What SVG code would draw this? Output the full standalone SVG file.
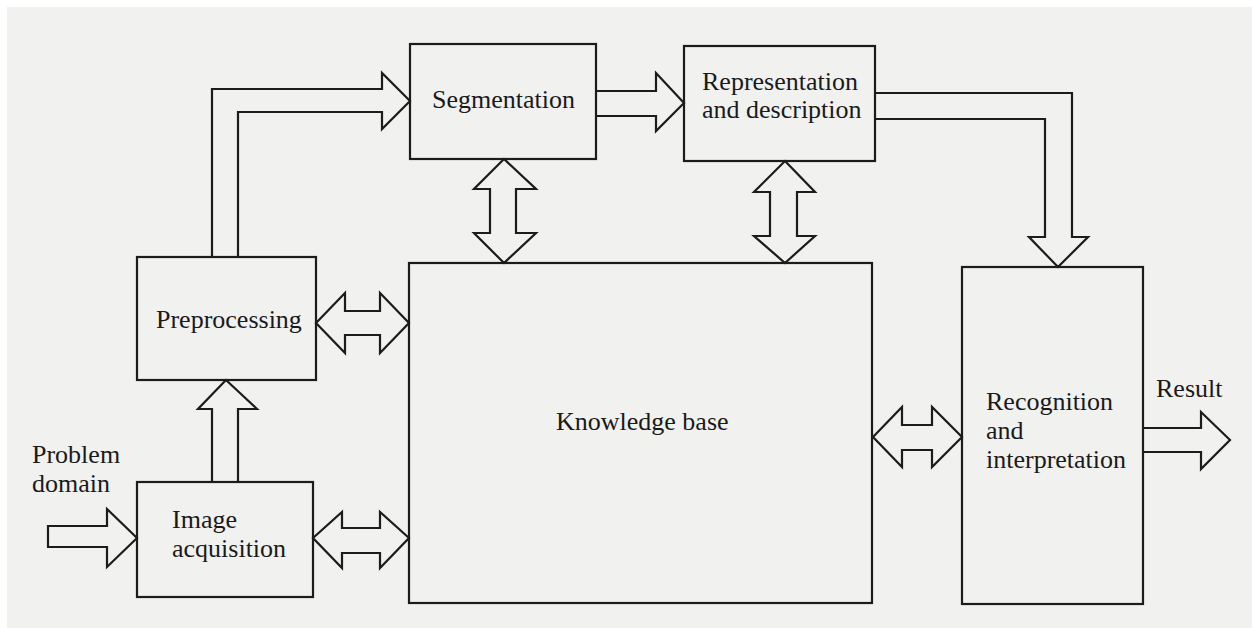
<svg xmlns="http://www.w3.org/2000/svg" width="1252" height="628" viewBox="0 0 1252 628">
<style>
.box{fill:none;stroke:#1c1c1c;stroke-width:2.2}
.arr{fill:#f1f1f0;stroke:#1c1c1c;stroke-width:2.2;stroke-linejoin:miter}
.t{font-family:"Liberation Serif","Times New Roman",serif;font-size:26px;fill:#1a1a1a}
</style>
<rect x="0" y="0" width="1252" height="628" fill="#ffffff"/>
<rect x="7" y="7" width="1245" height="621" fill="#f1f1f0"/>
<g id="connectors">
<path class="arr" d="M212,257 V89 H382 V73 L410,101 L382,129 V112 H238 V257"/>
<path class="arr" d="M596,91 H656 V73 L684,103 L656,131 V116 H596"/>
<path class="arr" d="M875,93 H1072 V237 H1088 L1058,267 L1029,237 H1045 V119 H875"/>
<path class="arr" d="M504,159 L536,189 H516 V233 H536 L504,263 L474,233 H490 V189 H474 Z"/>
<path class="arr" d="M785,161 L815,192 H797 V236 H815 L785,263 L754,236 H770 V192 H754 Z"/>
<path class="arr" d="M316,323 L345,293 V311 H380 V293 L409,323 L380,353 V335 H345 V353 Z"/>
<path class="arr" d="M226,380 L257,409 H238 V482 H212 V409 H198 Z"/>
<path class="arr" d="M48,526 H107 V509 L137,538 L107,567 V547 H48 Z"/>
<path class="arr" d="M313,538 L342,512 V528 H380 V512 L409,538 L380,568 V553 H342 V568 Z"/>
<path class="arr" d="M873,437 L902,407 V425 H932 V407 L962,437 L932,467 V450 H902 V467 Z"/>
<path class="arr" d="M1143,428 H1201 V412 L1230,440 L1201,469 V452 H1143"/>
</g>
<g id="segmentation">
<rect class="box" x="410" y="44" width="186" height="115"/>
<text class="t" x="432" y="108">Segmentation</text>
</g>
<g id="representation">
<rect class="box" x="684" y="46" width="191" height="115"/>
<text class="t" x="702" y="90">Representation</text>
<text class="t" x="702" y="118">and description</text>
</g>
<g id="preprocessing">
<rect class="box" x="137" y="257" width="179" height="123"/>
<text class="t" x="156" y="328">Preprocessing</text>
</g>
<g id="image-acquisition">
<rect class="box" x="137" y="482" width="176" height="115"/>
<text class="t" x="172" y="528">Image</text>
<text class="t" x="172" y="557">acquisition</text>
</g>
<g id="problem-domain">
<text class="t" x="32" y="463">Problem</text>
<text class="t" x="32" y="492">domain</text>
</g>
<g id="knowledge-base">
<rect class="box" x="409" y="263" width="463" height="340"/>
<text class="t" x="556" y="430">Knowledge base</text>
</g>
<g id="recognition">
<rect class="box" x="962" y="267" width="181" height="337"/>
<text class="t" x="986" y="410">Recognition</text>
<text class="t" x="986" y="439">and</text>
<text class="t" x="986" y="468">interpretation</text>
</g>
<g id="result">
<text class="t" x="1156" y="397">Result</text>
</g>
</svg>
